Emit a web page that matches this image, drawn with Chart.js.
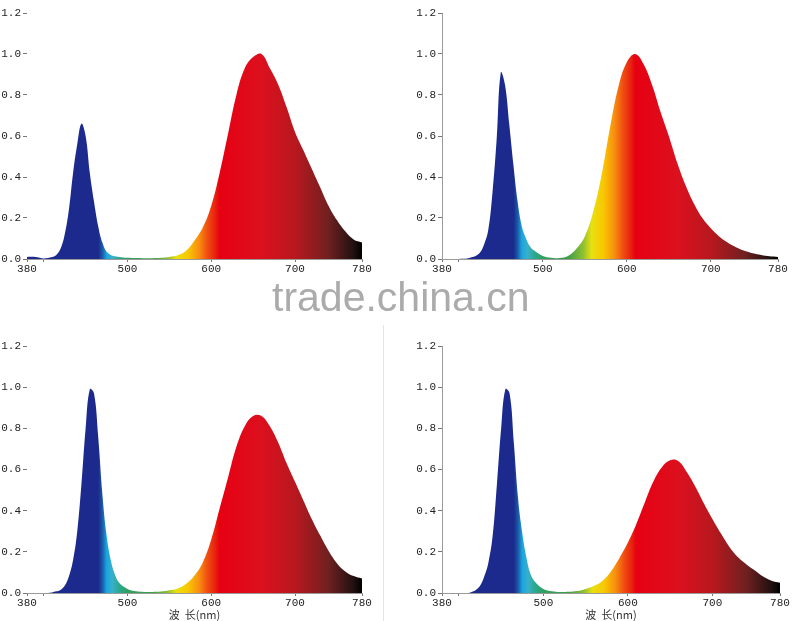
<!DOCTYPE html>
<html>
<head>
<meta charset="utf-8">
<script src="https://cdn.jsdelivr.net/npm/chart.js@4.4.1/dist/chart.umd.min.js"></script>
<style>
  html, body { margin: 0; padding: 0; background: #fff; }
  #page { position: relative; width: 800px; height: 621px; overflow: hidden; background: #fff; }
  .box { position: absolute; }
  #divider { position: absolute; left: 383px; top: 325px; width: 1px; height: 296px; background: #e4e4e4; }
  #mark { position: absolute; left: 272px; top: 277px; font: 41px/41px "Liberation Sans", Arial, sans-serif; color: #ababab; white-space: nowrap; }
</style>
</head>
<body>
<div id="page">
  <div class="box" style="left:0;top:0"><canvas id="cTL" width="390" height="285"></canvas></div>
  <div class="box" style="left:400px;top:0"><canvas id="cTR" width="400" height="285"></canvas></div>
  <div class="box" style="left:0;top:330px"><canvas id="cBL" width="380" height="291"></canvas></div>
  <div class="box" style="left:400px;top:330px"><canvas id="cBR" width="400" height="291"></canvas></div>
  <div id="divider"></div>
  <div id="mark">trade.china.cn</div>
</div>
<script>
// wavelength samples (nm)
const wavelengths = [380, 390, 400, 410, 415, 420, 425, 430, 435, 440, 445, 450, 455, 460, 465, 470, 475, 480, 485, 490,
  500, 510, 520, 530, 540, 550, 560, 570, 580, 590, 600, 610, 620, 630, 640, 650, 660, 670, 680, 690,
  700, 710, 720, 730, 740, 750, 760, 770, 780];

// relative intensity, top-left
const specTL = [0.01, 0.01, 0.003, 0.01, 0.02, 0.05, 0.12, 0.24, 0.42, 0.56, 0.66, 0.60, 0.42, 0.28, 0.16, 0.08, 0.035, 0.02, 0.013, 0.01,
  0.006, 0.005, 0.004, 0.004, 0.006, 0.01, 0.018, 0.04, 0.09, 0.155, 0.26, 0.42, 0.61, 0.80, 0.93, 0.985, 1.0, 0.93, 0.85, 0.74,
  0.62, 0.53, 0.44, 0.35, 0.26, 0.19, 0.135, 0.095, 0.08];
// top-right
const specTR = [0, 0, 0, 0.002, 0.008, 0.015, 0.03, 0.07, 0.14, 0.32, 0.58, 0.91, 0.85, 0.66, 0.46, 0.28, 0.16, 0.10, 0.06, 0.04,
  0.015, 0.006, 0.005, 0.015, 0.05, 0.11, 0.23, 0.41, 0.64, 0.84, 0.96, 1.0, 0.95, 0.85, 0.72, 0.60, 0.47, 0.36, 0.27, 0.20,
  0.15, 0.11, 0.08, 0.057, 0.04, 0.028, 0.02, 0.013, 0.01];
// bottom-left
const specBL = [0, 0, 0, 0.003, 0.008, 0.015, 0.035, 0.08, 0.16, 0.30, 0.53, 0.80, 0.99, 0.97, 0.76, 0.48, 0.28, 0.16, 0.09, 0.05,
  0.02, 0.008, 0.005, 0.005, 0.007, 0.013, 0.022, 0.045, 0.085, 0.15, 0.26, 0.41, 0.56, 0.71, 0.81, 0.86, 0.86, 0.81, 0.73, 0.63,
  0.54, 0.45, 0.36, 0.28, 0.205, 0.145, 0.105, 0.082, 0.07];
// bottom-right
const specBR = [0, 0, 0, 0, 0.005, 0.015, 0.035, 0.08, 0.15, 0.28, 0.53, 0.80, 0.99, 0.97, 0.73, 0.46, 0.29, 0.17, 0.09, 0.055,
  0.02, 0.009, 0.005, 0.006, 0.01, 0.02, 0.035, 0.06, 0.105, 0.17, 0.245, 0.335, 0.44, 0.54, 0.61, 0.645, 0.64, 0.585, 0.515, 0.435,
  0.36, 0.29, 0.225, 0.175, 0.14, 0.11, 0.08, 0.06, 0.05];

const xTicks = [380, 400, 500, 600, 700, 780];
const xTickLabels = ["380", "", "500", "600", "700", "780"];
const yTicks = [0, 0.2, 0.4, 0.6, 0.8, 1.0, 1.2];
const xTitle = "波  长(nm)";

// colour of the fill at each wavelength
const colorStops = [380, 465, 470, 475, 482, 490, 500, 530, 548, 558, 572, 585, 595, 605, 610, 660, 700, 740, 770, 780];
const colorValues = ["#1b2a8c", "#1b2a8c", "#1a5aa8", "#1aa5e0", "#3ab0c8", "#2aa890", "#30a060", "#3aa048", "#90c030", "#e8e010",
  "#f8c800", "#f89010", "#f05010", "#e82010", "#e60012", "#dc101e", "#b8181e", "#702020", "#201010", "#000000"];

Chart.defaults.font.family = "'Liberation Mono', 'DejaVu Sans Mono', monospace";
Chart.defaults.font.size = 11;
Chart.defaults.color = "#222";

function spectrumFill(c) {
  const chart = c.chart;
  const area = chart.chartArea;
  if (!area) return "#1b2a8c";
  const x = chart.scales.x;
  const x0 = x.getPixelForValue(380), x1 = x.getPixelForValue(780);
  const g = chart.ctx.createLinearGradient(x0, 0, x1, 0);
  colorStops.forEach((w, i) => g.addColorStop((w - 380) / 400, colorValues[i]));
  return g;
}

function makeChart(id, values, opt) {
  const canvas = document.getElementById(id);
  return new Chart(canvas, {
    type: "line",
    data: {
      datasets: [{
        data: wavelengths.map((w, i) => ({ x: w, y: values[i] })),
        fill: "origin",
        backgroundColor: spectrumFill,
        borderWidth: 0,
        pointRadius: 0,
        tension: 0.4,
      }],
    },
    options: {
      responsive: false,
      animation: false,
      layout: { padding: { left: 0, top: opt.top, right: canvas.width - opt.right, bottom: 0 } },
      plugins: { legend: { display: false }, tooltip: { enabled: false } },
      scales: {
        x: {
          type: "linear",
          min: 380,
          max: 780,
          afterBuildTicks: (s) => { s.ticks = xTicks.map((v) => ({ value: v })); },
          afterFit: (s) => { s.height = canvas.height - opt.bottom; },
          ticks: {
            autoSkip: false,
            maxRotation: 0,
            padding: 0,
            callback: (v) => xTickLabels[xTicks.indexOf(v)] ?? "",
          },
          grid: { drawOnChartArea: false, drawTicks: true, tickLength: 3, color: "#777" },
          border: { display: true, color: "#9a9a9a" },
          title: {
            display: opt.title,
            text: xTitle,
            padding: 0,
            color: "#333",
            font: { family: "'Noto Sans CJK SC', sans-serif", size: 11 },
          },
        },
        y: {
          min: 0,
          max: 1.2,
          afterBuildTicks: (s) => { s.ticks = yTicks.map((v) => ({ value: v })); },
          afterFit: (s) => { s.width = opt.left; },
          ticks: { padding: 2, callback: (v) => Number(v).toFixed(1) },
          grid: { drawOnChartArea: false, drawTicks: true, tickLength: 4, color: "#777" },
          border: { display: opt.yLine, color: "#9a9a9a" },
        },
      },
    },
  });
}

// chart-area edges are canvas-local pixels
makeChart("cTL", specTL, { left: 27, right: 362, top: 13, bottom: 259, yLine: false, title: false });
makeChart("cTR", specTR, { left: 42, right: 378, top: 13, bottom: 259, yLine: true, title: false });
makeChart("cBL", specBL, { left: 27, right: 362, top: 16, bottom: 263, yLine: false, title: true });
makeChart("cBR", specBR, { left: 42, right: 380, top: 16, bottom: 263, yLine: true, title: true });
</script>
</body>
</html>
